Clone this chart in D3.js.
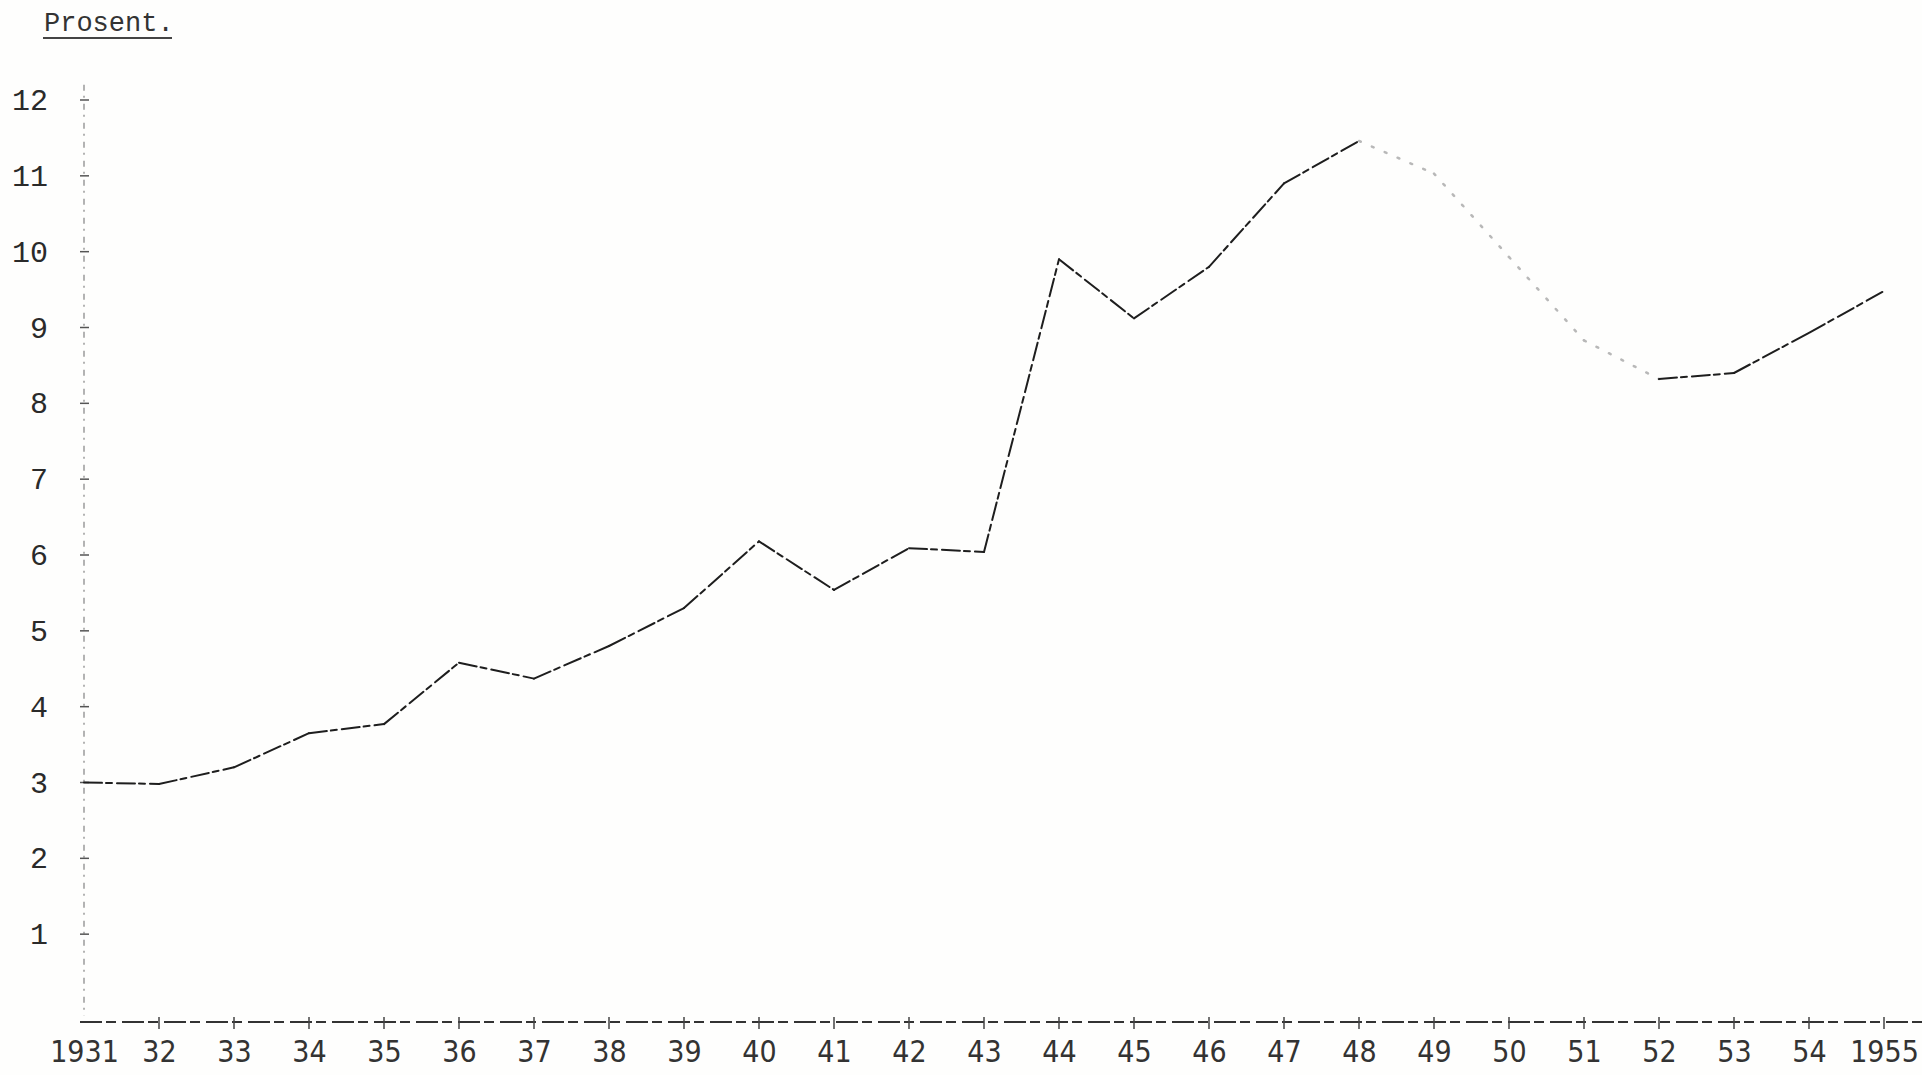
<!DOCTYPE html>
<html>
<head>
<meta charset="utf-8">
<script src="https://cdn.jsdelivr.net/npm/d3@7"></script>
<style>
  html, body { margin: 0; padding: 0; background: #fefefd; }
  svg { display: block; }
</style>
</head>
<body>
<div id="chart"></div>
<script>

var years = [ 1931, 1932, 1933, 1934, 1935, 1936, 1937, 1938, 1939, 1940, 1941, 1942,
              1943, 1944, 1945, 1946, 1947, 1948, 1949, 1950, 1951, 1952, 1953, 1954, 1955 ];
var percent = [ 3.0, 2.98, 3.2, 3.65, 3.77, 4.58, 4.37, 4.8, 5.3, 6.18, 5.54, 6.09,
                6.04, 9.9, 9.12, 9.8, 10.9, 11.46, 11.03, 9.93, 8.83, 8.32, 8.4, 8.93, 9.48 ];
var yTicks = [ 1, 2, 3, 4, 5, 6, 7, 8, 9, 10, 11, 12 ];
var xTickLabels = [ "1931", "32", "33", "34", "35", "36", "37", "38", "39", "40", "41", "42",
                    "43", "44", "45", "46", "47", "48", "49", "50", "51", "52", "53", "54", "1955" ];
var yTitle = "Prosent.";

var width = 1922, height = 1075;
var inkDark = "#1e1e1e";

var svg = d3.select("#chart").append("svg")
  .attr("width", width)
  .attr("height", height);

var x = d3.scaleLinear().domain([ 1931, 1955 ]).range([ 84, 1884 ]);
var y = d3.scaleLinear().domain([ 0, 12 ]).range([ 1010, 100 ]);

// title in the top left corner, typed and underlined
svg.append("text")
  .attr("x", 44)
  .attr("y", 31)
  .attr("font-family", "Liberation Mono")
  .attr("font-size", 27)
  .attr("fill", "#333")
  .text(yTitle);
svg.append("line")
  .attr("x1", 43).attr("x2", 172)
  .attr("y1", 38).attr("y2", 38)
  .attr("stroke", "#444")
  .attr("stroke-width", 2);

// vertical axis: a faint broken line with small plus marks
svg.append("line")
  .attr("x1", x(1931)).attr("x2", x(1931))
  .attr("y1", y(12.2)).attr("y2", y(0) + 6)
  .attr("stroke", "#9a9a9a")
  .attr("stroke-width", 1.5)
  .attr("stroke-dasharray", "6,5,2,6");

var yAxis = d3.axisLeft(y)
  .tickValues(yTicks)
  .tickSize(0)
  .tickPadding(36)
  .tickFormat(d3.format("d"));

var gy = svg.append("g")
  .attr("transform", "translate(" + x(1931) + ",0)")
  .call(yAxis);
gy.select(".domain").remove();
gy.selectAll("text")
  .attr("font-family", "Liberation Mono")
  .attr("font-size", 30)
  .attr("fill", "#2a2a2a");

svg.append("g").selectAll("line")
  .data(yTicks)
  .join("line")
  .attr("x1", x(1931) - 4).attr("x2", x(1931) + 5)
  .attr("y1", function(d) { return y(d); })
  .attr("y2", function(d) { return y(d); })
  .attr("stroke", "#555")
  .attr("stroke-width", 1.5);

// horizontal axis, darker, dashed like the typed original
var axisY = y(0) + 12;
svg.append("line")
  .attr("x1", x(1931) - 4).attr("x2", width)
  .attr("y1", axisY).attr("y2", axisY)
  .attr("stroke", "#333")
  .attr("stroke-width", 2)
  .attr("stroke-dasharray", "22,4,10,6");

var xAxis = d3.axisBottom(x)
  .tickValues(years)
  .tickSize(0)
  .tickPadding(19)
  .tickFormat(function(d, i) { return xTickLabels[ i ]; });

var gx = svg.append("g")
  .attr("transform", "translate(0," + axisY + ")")
  .call(xAxis);
gx.select(".domain").remove();
gx.selectAll("text")
  .attr("font-family", "'Liberation Sans Narrow', 'DejaVu Sans Condensed', 'DejaVu Sans Mono'")
  .attr("font-size", 30)
  .attr("fill", "#333");

svg.append("g").selectAll("line")
  .data(years.slice(1))
  .join("line")
  .attr("x1", function(d) { return x(d); })
  .attr("x2", function(d) { return x(d); })
  .attr("y1", axisY - 5).attr("y2", axisY + 7)
  .attr("stroke", "#444")
  .attr("stroke-width", 1.5);

// the series, drawn segment by segment so the faded stretch can be lighter
var points = years.map(function(yr, i) { return { year : yr, value : percent[ i ] }; });
var segments = d3.pairs(points);

function faded(d) { return d[ 0 ].year >= 1948 && d[ 0 ].year < 1952; }

var line = d3.line()
  .x(function(d) { return x(d.year); })
  .y(function(d) { return y(d.value); });

svg.append("g").selectAll("path")
  .data(segments)
  .join("path")
  .attr("d", function(d) { return line(d); })
  .attr("fill", "none")
  .attr("stroke", function(d) { return faded(d) ? "#b8b8b8" : inkDark; })
  .attr("stroke-width", function(d) { return faded(d) ? 2.5 : 2; })
  .attr("stroke-dasharray", function(d) { return faded(d) ? "2,12" : "18,4,6,5"; })
  .attr("stroke-linecap", "round");

</script>
</body>
</html>
